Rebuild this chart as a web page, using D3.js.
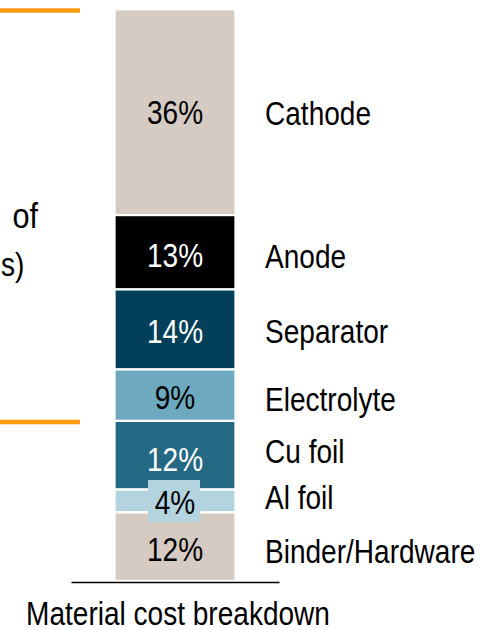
<!DOCTYPE html>
<html><head><meta charset="utf-8">
<script src="https://cdn.jsdelivr.net/npm/d3@7"></script>
<style>
html,body{margin:0;padding:0;background:#fff;}
text{font-family:"Liberation Sans Narrow","Arial Narrow","Liberation Sans",Arial,sans-serif;}
</style></head>
<body>
<svg id="c" width="492" height="630"></svg>
<script>
const categories = ["Cathode","Anode","Separator","Electrolyte","Cu foil","Al foil","Binder/Hardware"];
const values = [36,13,14,9,12,4,12];
const colors = ["#d5cbc3","#000000","#023f58","#6eaabf","#246883","#b3d4df","#d5cbc3"];
const textColors = ["#000","#fff","#fff","#000","#fff","#000","#000"];
const xLabel = "Material cost breakdown";
const sideText = ["of","s)"];

const SX = 0.85, FS = 33;
const svg = d3.select("#c");
const x = d3.scaleBand().domain([xLabel]).range([71,279]).paddingInner(0).paddingOuter(0.36);
const y = d3.scaleLinear().domain([0,100]).range([581,9.3]);

function txt(g, x0, y0, s, anchor, fill, fs){
  return g.append("text").attr("transform",`translate(${x0},${y0}) scale(${SX},1)`)
    .attr("text-anchor",anchor).attr("font-size",fs||FS).attr("fill",fill).text(s);
}

let cum = 0;
const stack = values.map((v,i)=>{const s={cat:categories[i],v,i,top:100-cum,bot:100-cum-v};cum+=v;return s;});

const bx = x(xLabel), bw = x.bandwidth();
svg.selectAll("rect.seg").data(stack).join("rect").attr("class","seg")
  .attr("x",bx).attr("width",bw)
  .attr("y",d=>y(d.top)).attr("height",d=>y(d.bot)-y(d.top))
  .attr("fill",d=>colors[d.i]).attr("stroke","#fff").attr("stroke-width",2.2);

// axis baseline
const ax = svg.append("g").attr("transform","translate(0,582)").call(d3.axisBottom(x).tickSize(0).tickFormat(""));
ax.select(".domain").attr("stroke","#000").attr("stroke-width",1.5);
txt(svg, 178, 625, xLabel, "middle", "#000");

const pctNudge = [0,2.5,1.5,1.5,3.5,1,2];
const labNudge = [0.5,3.5,2,3.5,-4.5,-4,4];
const cx = bx + bw/2;
const mid = d => (y(d.top)+y(d.bot))/2;
// Al foil label background box
const al = stack[5];
svg.append("rect").attr("x",148).attr("width",52)
  .attr("y",mid(al)-21).attr("height",42).attr("fill",colors[5]);

stack.forEach(d=>{
  txt(svg, cx, mid(d)+pctNudge[d.i]+12, d.v+"%", "middle", textColors[d.i]);
  txt(svg, 265, mid(d)+labNudge[d.i]+12, d.cat, "start", "#000");
});

// left side decoration
svg.append("line").attr("x1",0).attr("x2",80).attr("y1",10.5).attr("y2",10.5).attr("stroke","#ff9a0f").attr("stroke-width",4.5);
svg.append("line").attr("x1",0).attr("x2",80).attr("y1",422).attr("y2",422).attr("stroke","#ff9a0f").attr("stroke-width",4.5);
txt(svg, 38, 228, sideText[0], "end", "#000", 36);
txt(svg, 1, 276, sideText[1], "start", "#000", 33);
</script>
</body></html>
